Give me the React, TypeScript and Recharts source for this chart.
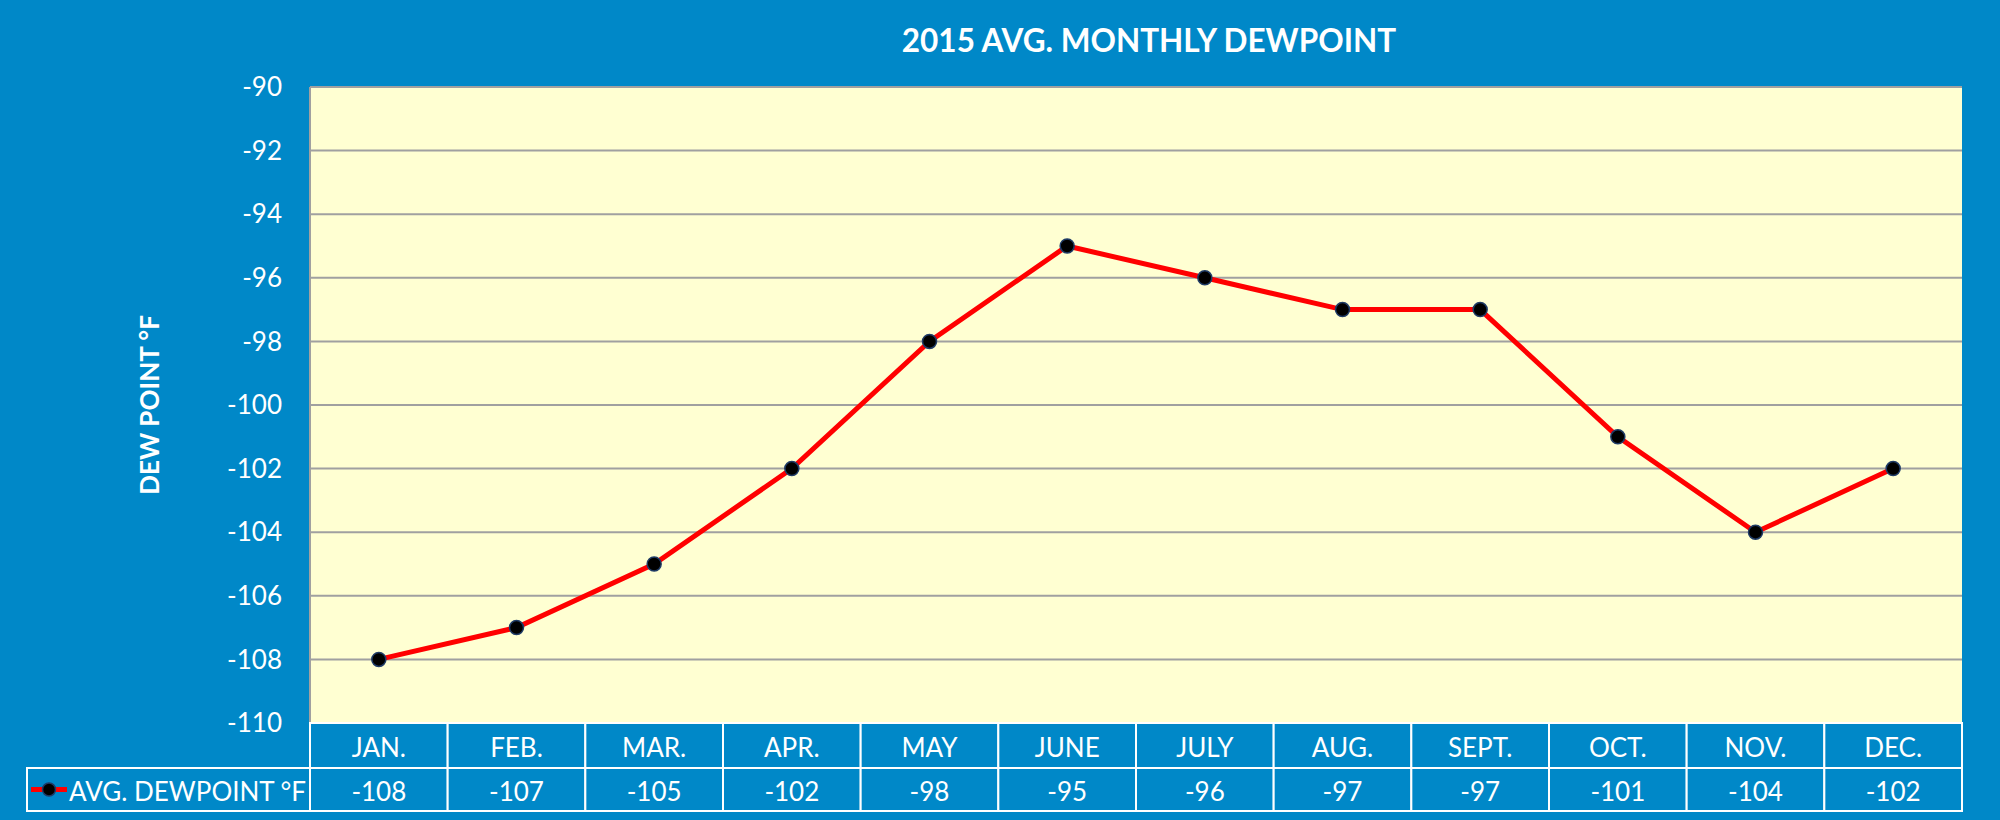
import React from 'react';
import { LineChart, Line, XAxis, YAxis, CartesianGrid } from 'recharts';

const months = ['JAN.', 'FEB.', 'MAR.', 'APR.', 'MAY', 'JUNE', 'JULY', 'AUG.', 'SEPT.', 'OCT.', 'NOV.', 'DEC.'];
const dewpoints = [-108, -107, -105, -102, -98, -95, -96, -97, -97, -101, -104, -102];
const yTicks = [-110, -108, -106, -104, -102, -100, -98, -96, -94, -92, -90];

const seriesName = 'AVG. DEWPOINT °F';
const BLUE = '#0088c8';
const FONT = 'Lato, "Open Sans", sans-serif';

const W = 2000;
const H = 820;
const PLOT_LEFT = 310;
const PLOT_RIGHT = 1962;
const COL_W = (PLOT_RIGHT - PLOT_LEFT) / months.length;
const ROW1 = 45;
const ROW2 = 43;
const LEGEND_LEFT = 27;

const data = months.map((m, i) => ({ month: m, value: dewpoints[i] }));

const TableTick = (props: any) => {
  const { x, y, payload, index } = props;
  const left = x - COL_W / 2;
  const top = y;
  const i = payload.index ?? index;
  return (
    <g>
      <rect x={left} y={top} width={COL_W} height={ROW1} fill={BLUE} stroke="#ffffff" strokeWidth={2} />
      <rect x={left} y={top + ROW1} width={COL_W} height={ROW2} fill={BLUE} stroke="#ffffff" strokeWidth={2} />
      <text x={x} y={top + ROW1 / 2 + 1} textAnchor="middle" dominantBaseline="central" fill="#fff" fontSize={26} fontFamily={FONT}>
        {payload.value}
      </text>
      <text x={x} y={top + ROW1 + ROW2 / 2 + 1} textAnchor="middle" dominantBaseline="central" fill="#fff" fontSize={26} fontFamily={FONT}>
        {dewpoints[i]}
      </text>
      {i === 0 && (
        <g>
          <rect x={LEGEND_LEFT} y={top + ROW1} width={left - LEGEND_LEFT} height={ROW2} fill={BLUE} stroke="#ffffff" strokeWidth={2} />
          <line x1={LEGEND_LEFT + 4} x2={LEGEND_LEFT + 40} y1={top + ROW1 + ROW2 / 2} y2={top + ROW1 + ROW2 / 2} stroke="#ff0000" strokeWidth={5} />
          <circle cx={LEGEND_LEFT + 22} cy={top + ROW1 + ROW2 / 2} r={6.5} fill="#000" stroke="#1f3b66" strokeWidth={1.5} />
          <text x={LEGEND_LEFT + 42} y={top + ROW1 + ROW2 / 2 + 1} dominantBaseline="central" fill="#fff" fontSize={26} fontFamily={FONT}>
            {seriesName}
          </text>
        </g>
      )}
    </g>
  );
};

export default function App() {
  return (
    <div style={{ position: 'absolute', left: 0, top: 0, width: W, height: H, background: BLUE, fontFamily: FONT }}>
      <div
        style={{
          position: 'absolute',
          left: 0,
          top: 22,
          width: 2298,
          textAlign: 'center',
          color: '#fff',
          fontSize: 31.5,
          fontWeight: 700,
          lineHeight: '36px',
        }}
      >
        2015 AVG. MONTHLY DEWPOINT
      </div>
      <LineChart
        width={W}
        height={H}
        data={data}
        margin={{ top: 87, right: W - PLOT_RIGHT, bottom: 9, left: 0 }}
      >
        <CartesianGrid vertical={false} fill="#ffffd2" stroke="#a0a0a0" strokeWidth={2} fillOpacity={1} />
        <XAxis
          dataKey="month"
          height={ROW1 + ROW2}
          padding={{ left: COL_W / 2, right: COL_W / 2 }}
          axisLine={false}
          tickLine={false}
          tickSize={0}
          tickMargin={0}
          interval={0}
          tick={<TableTick />}
        />
        <YAxis
          width={PLOT_LEFT}
          domain={[-110, -90]}
          ticks={yTicks}
          interval={0}
          allowDataOverflow
          axisLine={{ stroke: '#a0a0a0', strokeWidth: 2 }}
          tickLine={false}
          tickMargin={22}
          tick={{ fill: '#ffffff', fontSize: 26, fontFamily: FONT }}
          label={{
            value: 'DEW POINT °F',
            angle: -90,
            position: 'insideLeft',
            offset: 150,
            fill: '#ffffff',
            fontSize: 26,
            fontWeight: 700,
            fontFamily: FONT,
            style: { textAnchor: 'middle' },
          }}
        />
        <Line
          type="linear"
          dataKey="value"
          name={seriesName}
          stroke="#ff0000"
          strokeWidth={5}
          dot={{ r: 7, fill: '#000000', stroke: '#1f3b66', strokeWidth: 1.5 }}
          activeDot={false}
          isAnimationActive={false}
        />
      </LineChart>
    </div>
  );
}
